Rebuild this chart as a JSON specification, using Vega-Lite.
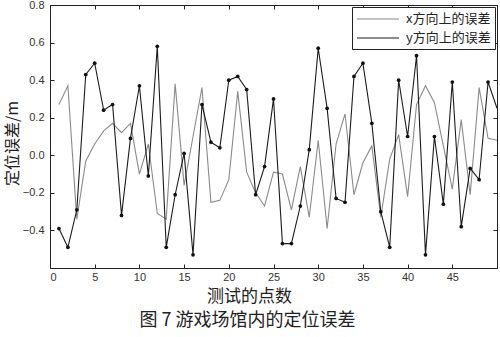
{
  "$schema": "https://vega.github.io/schema/vega-lite/v6.json",
  "width": 447,
  "height": 263,
  "autosize": "none",
  "padding": {"left": 50, "top": 5, "right": 3, "bottom": 69},
  "background": "white",
  "config": {
    "view": {"stroke": "#222", "strokeWidth": 1},
    "font": "Liberation Sans",
    "axis": {"grid": false, "domain": false, "tickColor": "#222", "tickSize": -4, "labelColor": "#333", "labelFontSize": 11, "labelFont": "Liberation Sans"}
  },
  "title": {
    "text": "图 7  游戏场馆内的定位误差",
    "orient": "bottom",
    "anchor": "middle",
    "font": "Noto Sans CJK SC",
    "fontSize": 18,
    "fontWeight": "normal",
    "color": "#222",
    "offset": 8,
    "dx": -26
  },
  "data": {
    "values": [
      {"i": 1, "series": "x方向上的误差", "v": 0.27},
      {"i": 2, "series": "x方向上的误差", "v": 0.37},
      {"i": 3, "series": "x方向上的误差", "v": -0.34},
      {"i": 4, "series": "x方向上的误差", "v": -0.03},
      {"i": 5, "series": "x方向上的误差", "v": 0.06},
      {"i": 6, "series": "x方向上的误差", "v": 0.13},
      {"i": 7, "series": "x方向上的误差", "v": 0.17},
      {"i": 8, "series": "x方向上的误差", "v": 0.12},
      {"i": 9, "series": "x方向上的误差", "v": 0.17},
      {"i": 10, "series": "x方向上的误差", "v": -0.1},
      {"i": 11, "series": "x方向上的误差", "v": 0.06},
      {"i": 12, "series": "x方向上的误差", "v": -0.31},
      {"i": 13, "series": "x方向上的误差", "v": -0.34},
      {"i": 14, "series": "x方向上的误差", "v": 0.38},
      {"i": 15, "series": "x方向上的误差", "v": -0.16},
      {"i": 16, "series": "x方向上的误差", "v": 0.1},
      {"i": 17, "series": "x方向上的误差", "v": 0.36},
      {"i": 18, "series": "x方向上的误差", "v": -0.25},
      {"i": 19, "series": "x方向上的误差", "v": -0.24},
      {"i": 20, "series": "x方向上的误差", "v": -0.13},
      {"i": 21, "series": "x方向上的误差", "v": 0.34},
      {"i": 22, "series": "x方向上的误差", "v": -0.09},
      {"i": 23, "series": "x方向上的误差", "v": -0.2},
      {"i": 24, "series": "x方向上的误差", "v": -0.27},
      {"i": 25, "series": "x方向上的误差", "v": -0.09},
      {"i": 26, "series": "x方向上的误差", "v": -0.1},
      {"i": 27, "series": "x方向上的误差", "v": -0.29},
      {"i": 28, "series": "x方向上的误差", "v": -0.06},
      {"i": 29, "series": "x方向上的误差", "v": -0.33},
      {"i": 30, "series": "x方向上的误差", "v": 0.08},
      {"i": 31, "series": "x方向上的误差", "v": -0.39},
      {"i": 32, "series": "x方向上的误差", "v": 0.06},
      {"i": 33, "series": "x方向上的误差", "v": 0.22},
      {"i": 34, "series": "x方向上的误差", "v": -0.21},
      {"i": 35, "series": "x方向上的误差", "v": -0.04},
      {"i": 36, "series": "x方向上的误差", "v": 0.05},
      {"i": 37, "series": "x方向上的误差", "v": -0.33},
      {"i": 38, "series": "x方向上的误差", "v": -0.02},
      {"i": 39, "series": "x方向上的误差", "v": 0.11},
      {"i": 40, "series": "x方向上的误差", "v": -0.22},
      {"i": 41, "series": "x方向上的误差", "v": 0.27},
      {"i": 42, "series": "x方向上的误差", "v": 0.37},
      {"i": 43, "series": "x方向上的误差", "v": 0.28},
      {"i": 44, "series": "x方向上的误差", "v": 0.05},
      {"i": 45, "series": "x方向上的误差", "v": -0.18},
      {"i": 46, "series": "x方向上的误差", "v": 0.19},
      {"i": 47, "series": "x方向上的误差", "v": -0.21},
      {"i": 48, "series": "x方向上的误差", "v": 0.36},
      {"i": 49, "series": "x方向上的误差", "v": 0.09},
      {"i": 50, "series": "x方向上的误差", "v": 0.08},
      {"i": 1, "series": "y方向上的误差", "v": -0.39},
      {"i": 2, "series": "y方向上的误差", "v": -0.49},
      {"i": 3, "series": "y方向上的误差", "v": -0.29},
      {"i": 4, "series": "y方向上的误差", "v": 0.43},
      {"i": 5, "series": "y方向上的误差", "v": 0.49},
      {"i": 6, "series": "y方向上的误差", "v": 0.24},
      {"i": 7, "series": "y方向上的误差", "v": 0.27},
      {"i": 8, "series": "y方向上的误差", "v": -0.32},
      {"i": 9, "series": "y方向上的误差", "v": 0.09},
      {"i": 10, "series": "y方向上的误差", "v": 0.37},
      {"i": 11, "series": "y方向上的误差", "v": -0.11},
      {"i": 12, "series": "y方向上的误差", "v": 0.58},
      {"i": 13, "series": "y方向上的误差", "v": -0.49},
      {"i": 14, "series": "y方向上的误差", "v": -0.21},
      {"i": 15, "series": "y方向上的误差", "v": 0.01},
      {"i": 16, "series": "y方向上的误差", "v": -0.53},
      {"i": 17, "series": "y方向上的误差", "v": 0.27},
      {"i": 18, "series": "y方向上的误差", "v": 0.07},
      {"i": 19, "series": "y方向上的误差", "v": 0.04},
      {"i": 20, "series": "y方向上的误差", "v": 0.4},
      {"i": 21, "series": "y方向上的误差", "v": 0.42},
      {"i": 22, "series": "y方向上的误差", "v": 0.35},
      {"i": 23, "series": "y方向上的误差", "v": -0.21},
      {"i": 24, "series": "y方向上的误差", "v": -0.06},
      {"i": 25, "series": "y方向上的误差", "v": 0.3},
      {"i": 26, "series": "y方向上的误差", "v": -0.47},
      {"i": 27, "series": "y方向上的误差", "v": -0.47},
      {"i": 28, "series": "y方向上的误差", "v": -0.27},
      {"i": 29, "series": "y方向上的误差", "v": 0.03},
      {"i": 30, "series": "y方向上的误差", "v": 0.57},
      {"i": 31, "series": "y方向上的误差", "v": 0.25},
      {"i": 32, "series": "y方向上的误差", "v": -0.23},
      {"i": 33, "series": "y方向上的误差", "v": -0.25},
      {"i": 34, "series": "y方向上的误差", "v": 0.42},
      {"i": 35, "series": "y方向上的误差", "v": 0.49},
      {"i": 36, "series": "y方向上的误差", "v": 0.17},
      {"i": 37, "series": "y方向上的误差", "v": -0.3},
      {"i": 38, "series": "y方向上的误差", "v": -0.49},
      {"i": 39, "series": "y方向上的误差", "v": 0.4},
      {"i": 40, "series": "y方向上的误差", "v": 0.1},
      {"i": 41, "series": "y方向上的误差", "v": 0.53},
      {"i": 42, "series": "y方向上的误差", "v": -0.53},
      {"i": 43, "series": "y方向上的误差", "v": 0.1},
      {"i": 44, "series": "y方向上的误差", "v": -0.26},
      {"i": 45, "series": "y方向上的误差", "v": 0.39},
      {"i": 46, "series": "y方向上的误差", "v": -0.38},
      {"i": 47, "series": "y方向上的误差", "v": -0.07},
      {"i": 48, "series": "y方向上的误差", "v": -0.13},
      {"i": 49, "series": "y方向上的误差", "v": 0.39},
      {"i": 50, "series": "y方向上的误差", "v": 0.25}
    ]
  },
  "layer": [
    {
      "mark": {"type": "line", "strokeWidth": 1.1, "clip": true},
      "encoding": {
        "x": {
          "field": "i", "type": "quantitative",
          "scale": {"domain": [0, 50], "nice": false, "zero": false},
          "axis": {"orient": "bottom", "values": [0, 5, 10, 15, 20, 25, 30, 35, 40, 45, 50], "labelExpr": "datum.value == 50 ? '' : datum.label", "labelPadding": 7, "title": "测试的点数", "titleFont": "Noto Sans CJK SC", "titleFontSize": 17, "titleFontWeight": "normal", "titleColor": "#222", "titlePadding": 6, "titleX": 199}
        },
        "y": {
          "field": "v", "type": "quantitative",
          "scale": {"domain": [-0.6, 0.8], "nice": false, "zero": false},
          "axis": {"orient": "left", "values": [-0.6, -0.4, -0.2, 0, 0.2, 0.4, 0.6, 0.8], "labelExpr": "datum.value < -0.5 ? '' : datum.label", "labelPadding": 10, "title": "定位误差/m", "titleFont": "Noto Sans CJK SC", "titleFontSize": 16, "titleFontWeight": "normal", "titleColor": "#222", "titlePadding": 2, "titleY": 138}
        },
        "color": {
          "field": "series", "type": "nominal",
          "scale": {"domain": ["x方向上的误差", "y方向上的误差"], "range": ["#8a8a8a", "#1c1c1c"]},
          "legend": {"orient": "top-right", "offset": 2, "title": null, "strokeColor": "#222", "fillColor": "white", "padding": 4, "symbolType": "M-1,0H5", "symbolSize": 196, "symbolStrokeWidth": 1.2, "labelFont": "Noto Sans CJK SC", "labelFontSize": 13, "labelColor": "#222", "labelOffset": 34, "rowPadding": 4}
        }
      }
    },
    {
      "transform": [{"filter": "datum.series == 'y方向上的误差' && datum.i < 50"}],
      "mark": {"type": "point", "filled": true, "size": 14, "color": "#111", "opacity": 1},
      "encoding": {
        "x": {"field": "i", "type": "quantitative", "scale": {"domain": [0, 50], "nice": false, "zero": false}, "axis": {"orient": "top", "values": [0, 5, 10, 15, 20, 25, 30, 35, 40, 45, 50], "labels": false, "title": null}},
        "y": {"field": "v", "type": "quantitative", "scale": {"domain": [-0.6, 0.8], "nice": false, "zero": false}, "axis": {"orient": "right", "values": [-0.6, -0.4, -0.2, 0, 0.2, 0.4, 0.6, 0.8], "labels": false, "title": null}}
      }
    }
  ],
  "resolve": {"axis": {"x": "independent", "y": "independent"}}
}
